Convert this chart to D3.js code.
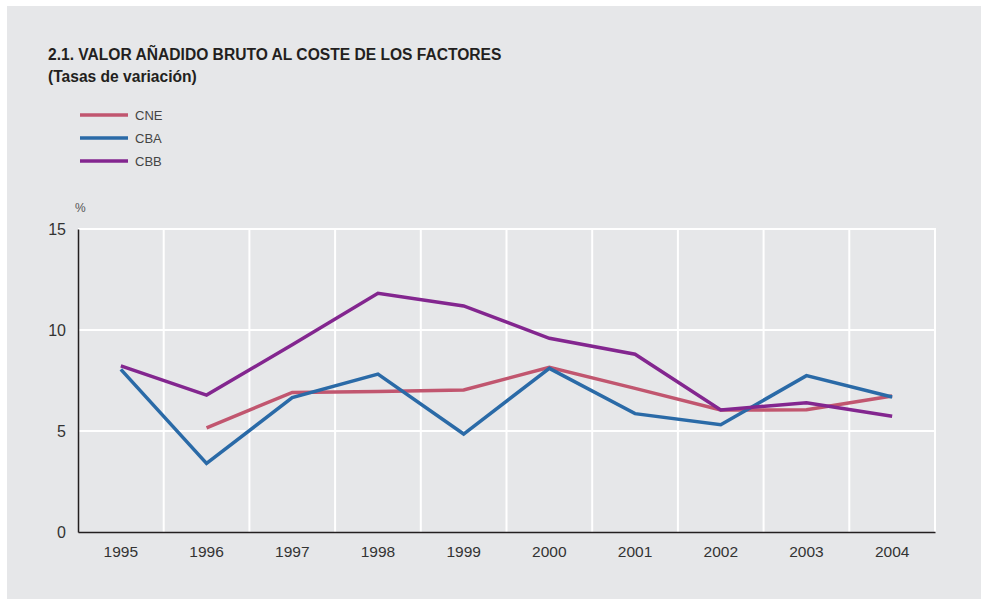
<!DOCTYPE html>
<html>
<head>
<meta charset="utf-8">
<script src="https://cdn.jsdelivr.net/npm/d3@7"></script>
<style>
  body { margin: 0; background: #fff; }
  svg { display: block; font-family: "Liberation Sans", Arial, sans-serif; }
</style>
</head>
<body>
<svg id="chart" width="981" height="599"></svg>
<script>
// datos
var years = ["1995", "1996", "1997", "1998", "1999", "2000", "2001", "2002", "2003", "2004"];
var cne = [null, 5.16, 6.91, 6.96, 7.03, 8.15, 7.11, 6.04, 6.05, 6.73];
var cba = [8.05, 3.40, 6.65, 7.82, 4.85, 8.10, 5.86, 5.31, 7.74, 6.68];
var cbb = [8.22, 6.78, 9.27, 11.82, 11.19, 9.59, 8.80, 6.04, 6.40, 5.73];
var yTicks = [0, 5, 10, 15];

var seriesNames = ["CNE", "CBA", "CBB"];
var seriesColors = ["#c1566f", "#2a6aa7", "#83268f"];
var seriesData = [cne, cba, cbb];

var svg = d3.select("#chart");

// fondo gris
svg.append("rect")
    .attr("x", 7).attr("y", 6)
    .attr("width", 974).attr("height", 593)
    .attr("fill", "#e6e7e9");

// titulo
svg.append("text")
    .attr("x", 48).attr("y", 60)
    .style("font-size", "15.6px")
    .style("font-weight", "bold")
    .attr("fill", "#231f20")
    .text("2.1. VALOR AÑADIDO BRUTO AL COSTE DE LOS FACTORES");

svg.append("text")
    .attr("x", 48).attr("y", 82)
    .style("font-size", "15.6px")
    .style("font-weight", "bold")
    .attr("fill", "#231f20")
    .text("(Tasas de variación)");

// leyenda
var legend = svg.append("g");
seriesNames.forEach(function (name, i) {
    var ly = 115 + i * 23;
    legend.append("line")
        .attr("x1", 80).attr("x2", 128)
        .attr("y1", ly).attr("y2", ly)
        .attr("stroke", seriesColors[i])
        .attr("stroke-width", 3.5);
    legend.append("text")
        .attr("x", 135).attr("y", ly + 4.5)
        .style("font-size", "13px")
        .attr("fill", "#444")
        .text(name);
});

var mLeft = 78, mRight = 935, mTop = 229, mBottom = 532;

var x = d3.scaleBand().domain(years).range([mLeft, mRight]);
var y = d3.scaleLinear().domain([0, 15]).range([mBottom, mTop]);

// rejilla
var grid = svg.append("g");
grid.selectAll(".hgrid")
    .data(yTicks.filter(function (d) { return d > 0; }))
    .enter().append("line")
    .attr("x1", mLeft).attr("x2", mRight)
    .attr("y1", function (d) { return y(d); })
    .attr("y2", function (d) { return y(d); })
    .attr("stroke", "#fff")
    .attr("stroke-width", 2);

grid.selectAll(".vgrid")
    .data(years)
    .enter().append("line")
    .attr("x1", function (d) { return x(d) + x.bandwidth(); })
    .attr("x2", function (d) { return x(d) + x.bandwidth(); })
    .attr("y1", mTop - 1).attr("y2", mBottom)
    .attr("stroke", "#fff")
    .attr("stroke-width", 2);

// eje y
var yAxis = svg.append("g")
    .attr("transform", "translate(" + mLeft + ",0)")
    .call(d3.axisLeft(y).tickValues(yTicks).tickSize(0).tickPadding(12));
yAxis.select(".domain").attr("stroke", "#231f20").attr("stroke-width", 1.5);
yAxis.selectAll("text")
    .style("font-size", "16px")
    .style("font-family", "Liberation Sans, Arial, sans-serif")
    .attr("fill", "#333");

svg.append("text")
    .attr("x", 75).attr("y", 212)
    .style("font-size", "12px")
    .attr("fill", "#555")
    .text("%");

// eje x
var xAxis = svg.append("g")
    .attr("transform", "translate(0," + mBottom + ")")
    .call(d3.axisBottom(x).tickSize(0).tickPadding(14));
xAxis.select(".domain").attr("stroke", "#231f20").attr("stroke-width", 1.5);
xAxis.selectAll("text")
    .style("font-size", "15.5px")
    .style("font-family", "Liberation Sans, Arial, sans-serif")
    .attr("fill", "#333");

// lineas
var line = d3.line()
    .defined(function (d) { return d !== null; })
    .x(function (d, i) { return x(years[i]) + x.bandwidth() / 2; })
    .y(function (d) { return y(d); });

seriesData.forEach(function (data, i) {
    svg.append("path")
        .datum(data)
        .attr("d", line)
        .attr("fill", "none")
        .attr("stroke", seriesColors[i])
        .attr("stroke-width", 3.5)
        .attr("stroke-linejoin", "miter");
});
</script>
</body>
</html>
